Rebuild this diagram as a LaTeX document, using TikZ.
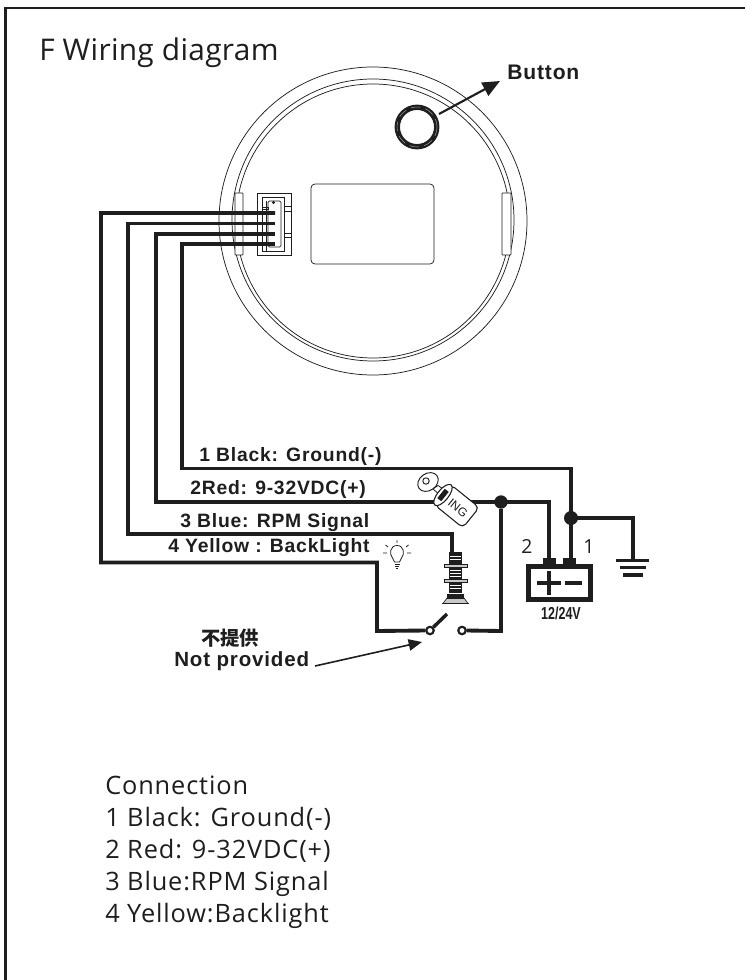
\documentclass[tikz,border=0pt]{standalone}
\usepackage{fontspec}
\usetikzlibrary{arrows.meta}
\newfontfamily\lblfont[LetterSpace=4]{Liberation Sans}
\newfontfamily\thinfont[LetterSpace=3.5]{Open Sans}
\newfontfamily\titlefont[LetterSpace=1]{Open Sans}
\newfontfamily\narrowfont{Liberation Sans}
\newfontfamily\cjkfont{Noto Sans CJK SC}
\definecolor{ink}{HTML}{1E1E1E}
\tikzset{
  frameline/.style={ink,line width=1.9pt},
  wire/.style={ink,line width=2.9pt,line join=miter},
  thinline/.style={ink,line width=0.55pt},
  lbl/.style={anchor=base west,inner sep=0pt,text=ink,font=\lblfont\bfseries\fontsize{14.5}{16}\selectfont},
  thintext/.style={anchor=base west,inner sep=0pt,text=ink,font=\thinfont\fontsize{19}{22}\selectfont},
  dot/.style={circle,fill=ink,draw=none,inner sep=0pt,minimum size=#1},
  term/.style={circle,draw=ink,fill=white,line width=1.5pt,inner sep=0pt,minimum size=5.5pt},
  arrowline/.style={ink,-{Triangle[length=#1,width=#1*0.85]}},
}
\begin{document}
\begin{tikzpicture}[x=0.75pt,y=-0.75pt]
\useasboundingbox (0,0) rectangle (745,980);
\fill[white] (0,0) rectangle (745,980);
% frame
\draw[frameline] (745,8) -- (5.5,8) -- (5.5,980);
% title
\node[anchor=base west,inner sep=0pt,text=ink,font=\titlefont\fontsize{22.4}{26}\selectfont] (title) at (39,61) {F Wiring diagram};
% gauge body
\draw[thinline] (373,221) circle[radius=154];
\draw[thinline] (373,220) circle[radius=141];
\draw[thinline] (373,221) circle[radius=137];
\draw[thinline,fill=white,rounded corners=0.5pt] (235,193) rectangle (243,255);
\draw[thinline,fill=white,rounded corners=0.5pt] (502,193) rectangle (511,255);
\draw[thinline,rounded corners=3pt] (311,184) rectangle (434,264);
% button
\node[circle,draw=ink,line width=4pt,minimum size=29.6pt,inner sep=0pt] (btn) at (417,127) {};
\draw[white!55!ink,line width=0.4pt,dash pattern=on 7pt off 4pt] (417,127) circle[radius=20];
\node[lbl,font=\lblfont\bfseries\fontsize{15.8}{18}\selectfont] (btnlabel) at (507,80) {Button};
\coordinate (btnfrom) at (439,114);
\coordinate (btnto) at (500,81);
\draw[arrowline=13pt,line width=1.6pt] (btnfrom) -- (btnto);
% connector
\draw[thinline] (257,193) rectangle (291,255);
\draw[thinline] (262,197) rectangle (284.5,251);
\draw[thinline,rounded corners=1pt] (268,201) rectangle (281,247);
\draw[thinline] (266,201) -- (266,251);
\draw[thinline] (284.5,206) rectangle (291,211);
\draw[thinline] (284.5,233) rectangle (291,237);
\draw[thinline] (262,207.5) rectangle (268,209.5);
\draw[thinline] (273.5,202.5) circle[radius=1];
% pin coordinates
\coordinate (pinA) at (275,213);
\coordinate (pinB) at (275,223.5);
\coordinate (pinC) at (275,234);
\coordinate (pinD) at (275,244);
% junctions and terminals
\node[dot=10pt] (jred) at (501,502) {};
\node[dot=10.5pt] (jgnd) at (571,518) {};
\node[term] (swL) at (430,630.5) {};
\node[term] (swR) at (462,630.5) {};
\coordinate (batP) at (549,560);
\coordinate (batN) at (571,560);
\coordinate (gnd) at (633,560);
\coordinate (gndb) at (633,518);
\coordinate (pbtop) at (452,552);
\coordinate (lever) at (447,614);
% wires
\draw[wire] (pinA) -- (101,213) -- (101,562.5) -- (377,562.5) -- (377,631) -- (swL.west);
\draw[wire] (pinB) -- (128,223.5) -- (128,534) -- (452,534) -- (pbtop);
\draw[wire] (pinC) -- (156,234) -- (156,502) -- (549,502) -- (batP);
\draw[wire] (pinD) -- (182,244) -- (182,468.5) -- (571,468.5) -- (batN);
\draw[wire] (jred) -- (501,631) -- (swR.east);
\draw[wire] (jgnd.center) -- (gndb) -- (gnd);
\draw[ink,line width=2.6pt] (swL) -- (lever);
\node[term] at (swL) {};
\node[term] at (swR) {};
% ground symbol
\draw[ink,line width=2.5pt] (616,560.5) -- (649,560.5);
\draw[ink,line width=2.5pt] (619.5,567.5) -- (646,567.5);
\draw[ink,line width=2.5pt] (623,575) -- (642.5,575);
% battery
\fill[ink] (543,558) rectangle (556,566);
\fill[ink] (563,558) rectangle (576,566);
\draw[ink,line width=3.8pt] (528.5,566.5) rectangle (590.5,599.5);
\draw[ink,line width=3.2pt] (537,583) -- (561,583);
\draw[ink,line width=3.2pt] (549,571) -- (549,595);
\draw[ink,line width=3.2pt] (565,583) -- (582,583);
\node[inner sep=0pt,text=ink] (vlabel) at (561,613) {\narrowfont\bfseries\fontsize{13}{14}\selectfont\scalebox{0.72}[1]{12/24V}};
\node[anchor=base,inner sep=0pt,text=ink,font=\thinfont\fontsize{14.5}{16}\selectfont] (n2) at (527,553) {2};
\node[anchor=base,inner sep=0pt,text=ink,font=\thinfont\fontsize{14.5}{16}\selectfont] (n1) at (589,553) {1};
% key switch
\draw[ink,line width=0.7pt,fill=white,rotate around={35:(428,482)}] (428,482) ellipse[x radius=11,y radius=8.5];
\draw[ink,line width=0.7pt] (426,481) circle[radius=3.2];
\draw[ink,line width=0.6pt,fill=white] (433,489) -- (438,485.5) -- (446,491) -- (441,496) -- cycle;
\begin{scope}[shift={(443,495)},rotate=-39]
  \draw[ink,line width=0.8pt,fill=white,rounded corners=3.5pt] (0,-13) -- (36,-13) -- (36,13) -- (0,13) -- cycle;
  \draw[ink,line width=0.8pt,fill=white] (0,0) ellipse[x radius=5.5,y radius=13];
  \fill[ink] (-2.5,-6) rectangle (2.5,6);
  \node[inner sep=0pt,text=ink,rotate=-39,font=\narrowfont\fontsize{9}{10}\selectfont] (ing) at (20,1) {ING};
\end{scope}
% push button lamp
\fill[ink] (449,552) rectangle (462,593);
\foreach \yy in {556,559,570,573,576,585,588}{\draw[white,line width=0.6pt] (450,\yy) -- (461,\yy);}
\draw[ink,line width=0.5pt,fill=white!75!ink] (444,564) rectangle (467,567);
\draw[ink,line width=0.5pt,fill=white!75!ink] (444,579) rectangle (467,582);
\draw[ink,line width=0.5pt,fill=white!75!ink] (443,603.5) -- (447,598) -- (464,598) -- (468,603.5) -- cycle;
\fill[ink] (447,594) rectangle (464,598.5);
\draw[ink,line width=1.1pt] (442,603.5) -- (468.5,603.5);
% bulb icon
\draw[ink,line width=0.6pt] (392.5,558) .. controls (389,554) and (390,545.5) .. (397,545.5) .. controls (404,545.5) and (405,554) .. (401.5,558) -- (399.5,562) -- (394.5,562) -- cycle;
\draw[ink,line width=0.7pt] (394.5,564) -- (399.5,564) (395,566) -- (399,566) (396,568) -- (398,568);
\draw[ink,line width=0.6pt] (397,540) -- (397,543) (385.5,545) -- (388,547) (408.5,545) -- (406,547) (383,553) -- (387,553) (407,553) -- (411,553);
% wire labels
\node[lbl] (l1) at (199,461) {1 Black: Ground(-)};
\node[lbl] (l2) at (190,494) {2Red: 9-32VDC(+)};
\node[lbl] (l3) at (180,527) {3 Blue: RPM Signal};
\node[lbl] (l4) at (168,552) {4 Yellow : BackLight};
% not provided
\node[inner sep=0pt,text=ink,font=\cjkfont\bfseries\fontsize{14.5}{16}\selectfont] (cn) at (230,638) {不提供};
\node[lbl,font=\lblfont\bfseries\fontsize{15.4}{17}\selectfont] (np) at (174,666) {Not provided};
\coordinate (npto) at (422,642);
\coordinate (npfrom) at (315,666);
\draw[arrowline=10pt,line width=1.2pt] (npfrom) -- (npto);
% connection list
\node[thintext] (c0) at (105,794) {Connection};
\node[thintext] (c1) at (105,826) {1 Black: Ground(-)};
\node[thintext] (c2) at (105,858) {2 Red: 9-32VDC(+)};
\node[thintext] (c3) at (105,890) {3 Blue:RPM Signal};
\node[thintext] (c4) at (105,922) {4 Yellow:Backlight};
\end{tikzpicture}
\end{document}
